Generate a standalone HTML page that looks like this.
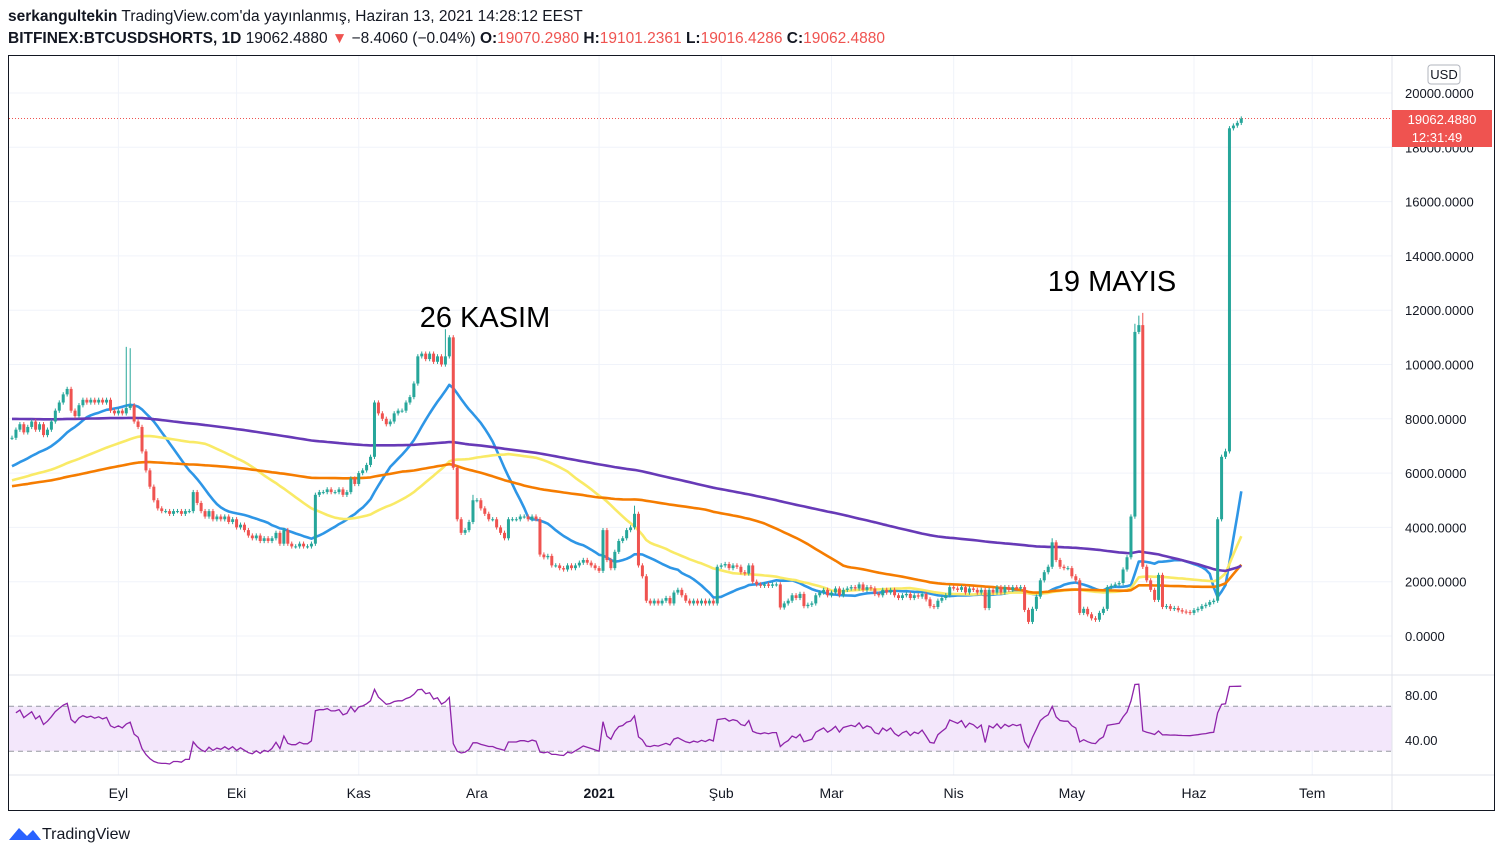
<!DOCTYPE html>
<html><head><meta charset="utf-8"><style>
body{margin:0;background:#fff;font-family:"Liberation Sans",sans-serif;}
svg text{font-family:"Liberation Sans","DejaVu Sans",sans-serif;}
</style></head><body>
<svg id="c" width="1503" height="857" viewBox="0 0 1503 857" xmlns="http://www.w3.org/2000/svg">
<rect width="1503" height="857" fill="#fff"/>
<text x="8" y="21" font-size="15.5" fill="#131722"><tspan font-weight="bold">serkangultekin</tspan> TradingView.com'da yayınlanmış, Haziran 13, 2021 14:28:12 EEST</text>
<text x="8" y="43" font-size="15.5" fill="#131722"><tspan font-weight="bold">BITFINEX:BTCUSDSHORTS, 1D</tspan> 19062.4880 <tspan fill="#ef5350">▼</tspan> −8.4060 (−0.04%) <tspan font-weight="bold">O:</tspan><tspan fill="#ef5350">19070.2980</tspan> <tspan font-weight="bold">H:</tspan><tspan fill="#ef5350">19101.2361</tspan> <tspan font-weight="bold">L:</tspan><tspan fill="#ef5350">19016.4286</tspan> <tspan font-weight="bold">C:</tspan><tspan fill="#ef5350">19062.4880</tspan></text>
<g id="grid"></g>
<g id="marks"></g>
<rect x="8.5" y="55.5" width="1486" height="755" fill="none" stroke="#131722" stroke-width="1"/>
<line x1="1392" y1="56" x2="1392" y2="810" stroke="#e0e3eb"/>
<line x1="9" y1="675" x2="1494" y2="675" stroke="#e0e3eb"/>
<line x1="9" y1="775" x2="1494" y2="775" stroke="#e0e3eb"/>
<g id="axes"></g>
<rect x="1428" y="65" width="32" height="19" rx="3" fill="#fff" stroke="#b2b5be"/>
<text x="1444" y="79" font-size="13" text-anchor="middle" fill="#131722">USD</text>
<rect x="1392" y="110" width="100" height="37" fill="#ef5350"/>
<text x="1442" y="124" font-size="13" text-anchor="middle" fill="#fff">19062.4880</text>
<text x="1437" y="142" font-size="13" text-anchor="middle" fill="#fff">12:31:49</text>
<text x="485" y="327" font-size="29" text-anchor="middle" fill="#000">26 KASIM</text>
<text x="1112" y="291" font-size="29" text-anchor="middle" fill="#000">19 MAYIS</text>
<g>
<path d="M9 840 l10 -12 l8 8 l6 -6 l8 10 z" fill="#2962ff"/>
<text x="42" y="839" font-size="16" fill="#131722">TradingView</text>
</g>
</svg>
<script>
// daily closes (thousands USD), Aug 5 2020 .. Jun 13 2021
const closes = [
7.3,7.6,7.8,7.5,7.7, 7.9,7.6,7.8,7.4,7.6, 7.9,8.3,8.6,8.9,9.1, 8.3,8.1,8.5,8.7,8.6,
8.7,8.6,8.7,8.6,8.7, 8.3,8.2,8.3,8.2,8.4, 8.5,7.9,7.7,6.8,6.1, 5.5,5.0,4.7,4.6,4.6,
4.5,4.6,4.6,4.5,4.6, 4.6,5.3,4.9,4.6,4.4, 4.6,4.3,4.4,4.3,4.4, 4.2,4.3,4.0,4.1,3.9,
3.7,3.6,3.7,3.5,3.6, 3.5,3.6,3.8,3.4,3.9, 3.4,3.3,3.3,3.4,3.3, 3.3,3.4,5.2,5.3,5.3,
5.4,5.3,5.3,5.4,5.2, 5.3,5.8,5.6,6.0,6.1, 6.3,6.6,8.6,8.2,8.0, 7.8,7.9,8.2,8.3,8.3,
8.6,8.8,9.3,10.3,10.4, 10.2,10.4,10.1,10.3,10.0, 10.3,11.0,6.2,4.3,3.8, 3.9,4.2,5.0,5.0,4.7,
4.5,4.3,4.3,4.0,3.8, 3.6,4.3,4.3,4.3,4.4, 4.4,4.3,4.4,4.3,3.0, 2.9,2.95,2.6,2.6,2.5,
2.45,2.6,2.5,2.6,2.7, 2.8,2.7,2.6,2.5,2.4, 3.9,2.8,2.5,3.1,3.5, 3.6,3.9,4.0,4.5,2.6,
2.2,1.3,1.2,1.3,1.2, 1.3,1.4,1.2,1.6,1.7, 1.5,1.3,1.2,1.3,1.2, 1.3,1.2,1.3,1.2,2.55,
2.6,2.65,2.5,2.6,2.55, 2.35,2.3,2.6,2.0,1.9, 1.85,1.9,1.85,1.9,1.9, 1.05,1.2,1.3,1.5,1.4,
1.55,1.1,1.15,1.2,1.5, 1.6,1.7,1.5,1.6,1.75, 1.5,1.7,1.75,1.8,1.75, 1.9,1.7,1.8,1.75,1.55,
1.5,1.7,1.6,1.7,1.5, 1.4,1.5,1.55,1.4,1.5, 1.45,1.55, 1.35,1.1,1.07,1.3,1.4, 1.5,1.8,1.75,1.7,1.8,
1.6,1.75,1.7,1.6,1.7, 1.03,1.7,1.6,1.8,1.6, 1.8,1.7,1.8,1.75,1.8, 0.96,0.52,1.0,1.45,2.05,
2.35,2.55,3.45,2.8,2.55, 2.5,2.5,2.2,2.05,0.85, 1.0,0.8,0.65,0.6,0.85, 1.0,1.8,1.85,1.9,1.95,
2.45,2.9,4.4,11.2,11.45, 2.55,2.05,1.7,1.33,2.25, 1.07,1.1,1.0,1.03,0.95, 0.9,0.88,0.85,0.95,1.0,
1.1,1.15,1.25,1.3,4.3, 6.6,6.8,18.7,18.8,18.9, 19.06
];
const highIdx = [29, 30, 110, 117, 158, 264, 285, 286, 287, 308];
const highVal = [10.65, 10.6, 11.3, 5.2, 4.8, 3.6, 11.5, 11.8, 11.9, 6.9];
const maPeriods = [20, 50, 100, 200];
const maStart = [6.2, 5.7, 5.5, 8.0];
const maColors = ['#2e96e6', '#f9ea66', '#f57c00', '#673ab7'];
const rsiSeedGain = 0.12, rsiSeedLoss = 0.08;
const priceTicks = [0, 2, 4, 6, 8, 10, 12, 14, 16, 18, 20];
const monthIdx = [27, 57, 88, 118, 149, 180, 208, 239, 269, 300, 330];
const monthLbl = ['Eyl', 'Eki', 'Kas', 'Ara', '2021', 'Şub', 'Mar', 'Nis', 'May', 'Haz', 'Tem'];
const rsiTicks = [80, 40];

const NS = 'http://www.w3.org/2000/svg';
const xOf = i => 12 + i * 3.94;
const yP = v => 636 - v * 27.15;
const yR = r => 695 + (80 - r) * 1.125;
function mk(tag, attrs, parent) { const e = document.createElementNS(NS, tag); for (const k in attrs) e.setAttribute(k, attrs[k]); parent.appendChild(e); return e; }
const grid = document.getElementById('grid'), marks = document.getElementById('marks'), axes = document.getElementById('axes');

priceTicks.forEach(t => {
  const l = mk('line', {x1: 9, x2: 1392, y1: yP(t), y2: yP(t), stroke: '#f0f3fa'}, grid);
  
  
  const tx = mk('text', {x: 1405, y: yP(t) + 5, 'font-size': 13, fill: '#131722'}, axes);
  tx.textContent = (t * 1000).toFixed(4);
  
  
});
monthIdx.forEach((m, k) => {
  const l = mk('line', {x1: xOf(m), x2: xOf(m), y1: 56, y2: 775, stroke: '#f0f3fa'}, grid);
  
  
  const tx = mk('text', {x: xOf(m), y: 798, 'font-size': 14, 'text-anchor': 'middle', fill: '#131722', 'font-weight': monthLbl[k] === '2021' ? 'bold' : 'normal'}, axes);
  tx.textContent = monthLbl[k];
  
  
});
rsiTicks.forEach(t => {
  const tx = mk('text', {x: 1405, y: yR(t) + 5, 'font-size': 13, fill: '#131722'}, axes);
  tx.textContent = t.toFixed(2);
  
  
});
const lp = mk('line', {x1: 9, x2: 1392, y1: yP(closes[closes.length - 1]), y2: yP(closes[closes.length - 1]), stroke: '#ef5350', 'stroke-dasharray': '1 2'}, grid);



maPeriods.forEach((p, k) => {
  let pts = [];
  for (let i = 0; i < closes.length; i++) {
    let s = 0;
    for (let j = i - p + 1; j <= i; j++) s += j < 0 ? maStart[k] : closes[j];
    pts.push(xOf(i).toFixed(1) + ',' + yP(s / p).toFixed(1));
  }
  const pl = mk('polyline', {points: pts.join(' '), fill: 'none', stroke: maColors[k], 'stroke-width': 2.6, 'stroke-linejoin': 'round'}, marks);
  
  
});

for (let i = 0; i < closes.length; i++) {
  const c = closes[i], o = i ? closes[i - 1] : c;
  const up = c >= o, col = up ? '#26a69a' : '#ef5350';
  let hi = Math.max(o, c) + 0.08, lo = Math.min(o, c) - 0.08;
  const h = highIdx.indexOf(i); if (h >= 0) hi = highVal[h];
  const g = mk('g', {}, marks);
  
  
  mk('line', {x1: xOf(i), x2: xOf(i), y1: yP(hi), y2: yP(lo), stroke: col, 'stroke-width': 1}, g);
  const y1 = yP(Math.max(o, c)), y2 = yP(Math.min(o, c));
  mk('rect', {x: xOf(i) - 1.5, y: y1, width: 3, height: Math.max(1, y2 - y1), fill: col}, g);
}

const band = mk('rect', {x: 9, y: yR(70), width: 1383, height: yR(30) - yR(70), fill: '#f3e7fb'}, marks);


[70, 30].forEach(v => {
  const l = mk('line', {x1: 9, x2: 1392, y1: yR(v), y2: yR(v), stroke: '#9598a1', 'stroke-dasharray': '5 4'}, marks);
  
  
});
let ag = rsiSeedGain, al = rsiSeedLoss, rpts = [];
for (let i = 1; i < closes.length; i++) {
  const d = closes[i] - closes[i - 1];
  const g = Math.max(d, 0), l = Math.max(-d, 0);
  ag = (ag * 13 + g) / 14; al = (al * 13 + l) / 14;
  const r = al === 0 ? 100 : 100 - 100 / (1 + ag / al);
  rpts.push(xOf(i).toFixed(1) + ',' + yR(r).toFixed(1));
}
const rl = mk('polyline', {points: rpts.join(' '), fill: 'none', stroke: '#8e24aa', 'stroke-width': 1.3}, marks);


</script>
</body></html>
